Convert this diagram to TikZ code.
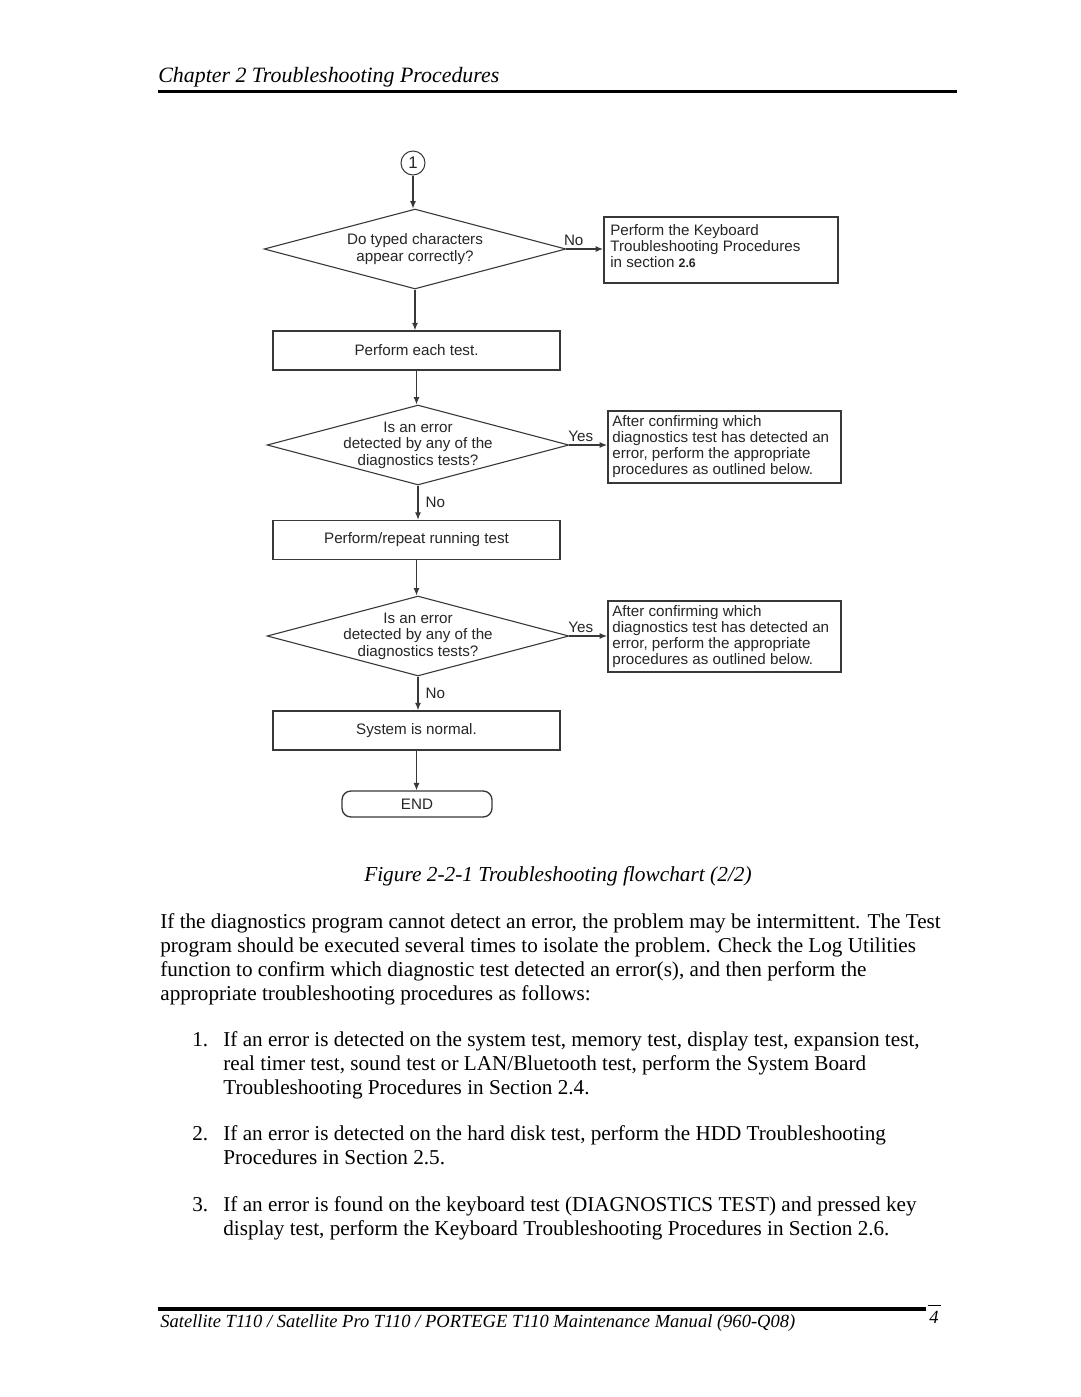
\documentclass[tikz,border=0pt]{standalone}
\usepackage{fontspec}
\setmainfont{Liberation Serif}
\newfontfamily\flowfont{Liberation Sans}
\usetikzlibrary{shapes.geometric,arrows.meta}
\definecolor{ln}{gray}{0.22}
\definecolor{tx}{gray}{0.15}
\tikzset{
  dia/.style={diamond,draw=ln,line width=0.62pt,minimum width=171pt,minimum height=45.3pt,inner sep=0pt},
  dtext/.style={align=center,font=\flowfont\fontsize{8.6}{9.4}\selectfont,text=tx,inner sep=0pt},
  pbox/.style={draw=ln,line width=0.9pt,minimum width=162.6pt,minimum height=22.1pt,inner sep=0pt,font=\flowfont\fontsize{8.6}{9.4}\selectfont,text=tx},
  note/.style={draw=ln,line width=0.9pt,anchor=north west,inner sep=0pt,font=\flowfont\fontsize{8.6}{9.1}\selectfont,text=tx},
  ntext/.style={anchor=north west,inner sep=0pt,align=left,font=\flowfont\fontsize{8.6}{9.1}\selectfont,text=tx},
  term/.style={draw=ln,line width=0.75pt,rounded corners=5pt,minimum width=85pt,minimum height=14.7pt,inner sep=0pt,font=\flowfont\fontsize{8.6}{9.4}\selectfont,text=tx},
  circ/.style={circle,draw=ln,line width=0.57pt,minimum size=13.6pt,inner sep=0pt,font=\flowfont\fontsize{9.5}{10}\selectfont,text=tx},
  arr/.style={draw=ln,line width=0.62pt,-{Latex[length=4.2pt,width=3.4pt]}},
  lbl/.style={font=\flowfont\fontsize{8.6}{9.4}\selectfont,text=tx,inner sep=0pt},
  bodyl/.style={anchor=base west,inner sep=0pt,font=\fontsize{12}{14}\selectfont},
}
\begin{document}
\begin{tikzpicture}[x=0.5667pt,y=-0.5667pt]
\useasboundingbox[fill=white] (0,0) rectangle (1080,1397);
% header
\node[anchor=base west,inner sep=0pt,font=\itshape\fontsize{12.4}{14}\selectfont] (hdr) at (158,82) {Chapter 2 Troubleshooting Procedures};
\fill (158,89.5) rectangle (957,92.5);
% flowchart
\node[circ] (c1) at (413,163) {1};
\node[dia] (d1) at (415,249) {};
\node[dtext] (d1t) at (415,249) {Do typed characters\\appear correctly?};
\node[note,minimum width=132.6pt,minimum height=37.4pt] (n1) at (603,216) {};
\node[ntext] (n1t) at (610,224) {Perform the Keyboard\\Troubleshooting Procedures\\in section \textbf{\fontsize{7}{8}\selectfont 2.6}};
\node[pbox] (b1) at (416.5,350.5) {Perform each test.};
\node[dia] (d2) at (418,445) {};
\node[dtext] (d2t) at (418,445) {Is an error\\detected by any of the\\diagnostics tests?};
\node[note,minimum width=132pt,minimum height=40.8pt] (n2) at (607,410) {};
\node[ntext] (n2t) at (612,415) {After confirming which\\diagnostics test has detected an\\error, perform the appropriate\\procedures as outlined below.};
\node[pbox] (b2) at (416.5,540) {Perform/repeat running test};
\node[dia] (d3) at (418,636) {};
\node[dtext] (d3t) at (418,636) {Is an error\\detected by any of the\\diagnostics tests?};
\node[note,minimum width=132pt,minimum height=40.2pt] (n3) at (607,600) {};
\node[ntext] (n3t) at (612,605) {After confirming which\\diagnostics test has detected an\\error, perform the appropriate\\procedures as outlined below.};
\node[pbox] (b3) at (416.5,730.5) {System is normal.};
\node[term] (e) at (417,804) {END};
% connectors
\draw[arr] (c1.south) -- (c1.south |- d1.north);
\draw[arr] (d1.east) -- (n1.west |- d1.east) node[lbl,pos=0.2,above=1.7pt,anchor=south] (l1) {No};
\draw[arr] (d1.south) -- (d1.south |- b1.north);
\draw[arr] (b1.south) -- (b1.south |- d2.north);
\draw[arr] (d2.east) -- (n2.west |- d2.east) node[lbl,pos=0.3,above=1.7pt,anchor=south] (l2) {Yes};
\draw[arr] (d2.south) -- (d2.south |- b2.north) node[lbl,midway,right=4pt,anchor=west] (l3) {No};
\draw[arr] (b2.south) -- (b2.south |- d3.north);
\draw[arr] (d3.east) -- (n3.west |- d3.east) node[lbl,pos=0.3,above=1.7pt,anchor=south] (l4) {Yes};
\draw[arr] (d3.south) -- (d3.south |- b3.north) node[lbl,midway,right=4pt,anchor=west] (l5) {No};
\draw[arr] (b3.south) -- (b3.south |- e.north);
% caption
\node[anchor=base,inner sep=0pt,font=\itshape\fontsize{12.1}{14}\selectfont] (cap) at (558,881) {Figure 2-2-1 Troubleshooting flowchart (2/2)};
% body
\node[bodyl] (p1) at (160,928) {If the diagnostics program cannot detect an error, the problem may be intermittent. The Test};
\node[bodyl] (p2) at (160,952) {program should be executed several times to isolate the problem. Check the Log Utilities};
\node[bodyl] (p3) at (160,976) {function to confirm which diagnostic test detected an error(s), and then perform the};
\node[bodyl] (p4) at (160,1000) {appropriate troubleshooting procedures as follows:};
\node[bodyl] (i1n) at (192,1046) {1.};
\node[bodyl] (i1a) at (223,1046) {If an error is detected on the system test, memory test, display test, expansion test,};
\node[bodyl] (i1b) at (223,1070) {real timer test, sound test or LAN/Bluetooth test, perform the System Board};
\node[bodyl] (i1c) at (223,1094) {Troubleshooting Procedures in Section 2.4.};
\node[bodyl] (i2n) at (192,1140) {2.};
\node[bodyl] (i2a) at (223,1140) {If an error is detected on the hard disk test, perform the HDD Troubleshooting};
\node[bodyl] (i2b) at (223,1164) {Procedures in Section 2.5.};
\node[bodyl] (i3n) at (192,1211) {3.};
\node[bodyl] (i3a) at (223,1211) {If an error is found on the keyboard test (DIAGNOSTICS TEST) and pressed key};
\node[bodyl] (i3b) at (223,1235) {display test, perform the Keyboard Troubleshooting Procedures in Section 2.6.};
% footer
\fill (158,1306.5) rectangle (926,1310.5);
\draw[line width=0.57pt] (928,1305) -- (941,1305);
\node[anchor=base west,inner sep=0pt,font=\itshape\fontsize{10.5}{12}\selectfont] (pg) at (929,1323) {4};
\node[anchor=base west,inner sep=0pt,font=\itshape\fontsize{10.5}{12}\selectfont] (ftr) at (160,1327) {Satellite T110 / Satellite Pro T110 / PORTEGE T110 Maintenance Manual (960-Q08)};
\end{tikzpicture}
\end{document}
